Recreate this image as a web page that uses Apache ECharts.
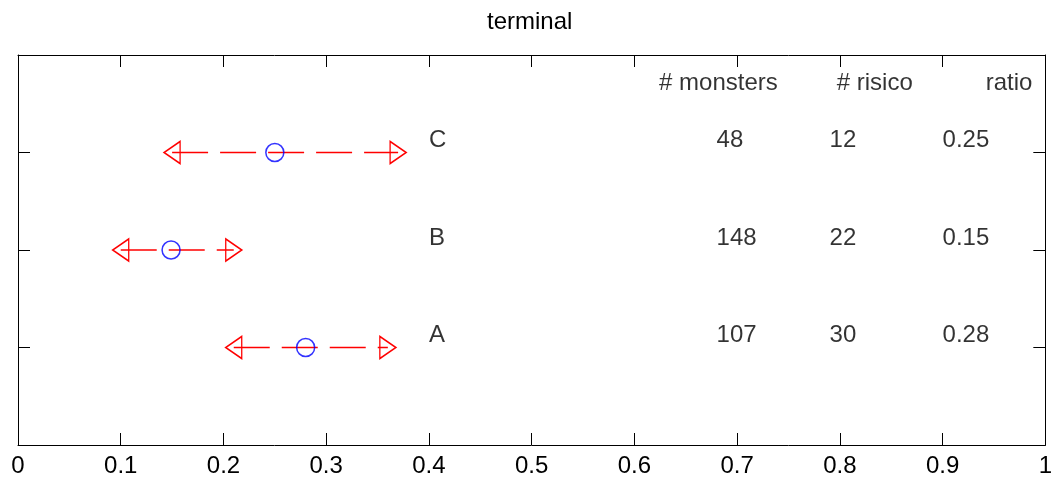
<!DOCTYPE html>
<html>
<head>
<meta charset="utf-8">
<script src="https://cdn.jsdelivr.net/npm/echarts@6/dist/echarts.min.js"></script>
<style>
  html, body { margin: 0; padding: 0; background: #fff; }
  #chart { width: 1055px; height: 479px; }
</style>
</head>
<body>
<div id="chart"></div>
<script>
// groups plotted bottom to top at y = 1, 2, 3
const groups = ['A', 'B', 'C']
const lower = [0.21, 0.10, 0.15]
const center = [0.28, 0.149, 0.25]
const upper = [0.36, 0.21, 0.37]
const monsters = [107, 148, 48]
const risico = [30, 22, 12]
const ratioText = ['0.28', '0.15', '0.25']
const headers = ['# monsters', '# risico', 'ratio']

const font = 'Liberation Sans, Arial, sans-serif'
const red = '#ff0000'
const blue = '#0000ff'

const chart = echarts.init(document.getElementById('chart'))

// one dashed errorbar per group, triangles at both ends
const barSeries = groups.map((g, i) => ({
  type: 'line',
  silent: true,
  data: [
    { value: [lower[i], i + 1], symbolRotate: 90 },
    { value: [upper[i], i + 1], symbolRotate: -90 }
  ],
  symbol: 'triangle',
  symbolSize: [22, 16],
  showSymbol: true,
  itemStyle: { color: 'rgba(0,0,0,0)', borderColor: red, borderWidth: 1.5 },
  lineStyle: { color: red, width: 1.5, type: [36, 12] },
  z: 2
}))

const textStyle = { color: '#000', fontSize: 24, fontFamily: font }

const textRows = []
groups.forEach((g, i) => {
  const y = i + 1
  textRows.push({ name: g, value: [0.4, y] })
  textRows.push({ name: String(monsters[i]), value: [0.68, y] })
  textRows.push({ name: String(risico[i]), value: [0.79, y] })
  textRows.push({ name: ratioText[i], value: [0.9, y] })
})

const headerX = [0.624, 0.797, 0.942]

// frame axis: inside ticks, no labels unless asked
const frameAxis = (extra) => Object.assign({
  type: 'value',
  axisLine: { show: true, onZero: false, lineStyle: { color: '#000', width: 1 } },
  axisTick: { show: true, inside: true, length: 12, lineStyle: { color: '#000' } },
  axisLabel: { show: false },
  splitLine: { show: false }
}, extra)

const option = {
  animation: false,
  title: {
    text: 'terminal',
    left: 487,
    top: 10,
    padding: 0,
    textStyle: { color: '#000', fontSize: 24, fontWeight: 'normal', fontFamily: font }
  },
  grid: { left: 18, right: 3, top: 55, bottom: 34 },
  xAxis: [
    frameAxis({
      min: 0, max: 1, interval: 0.1, position: 'bottom',
      axisLabel: { show: true, color: '#000', fontSize: 24, fontFamily: font, margin: 9 }
    }),
    frameAxis({ min: 0, max: 1, interval: 0.1, position: 'top' })
  ],
  yAxis: [
    frameAxis({ min: 0, max: 4, interval: 1, position: 'left' }),
    frameAxis({ min: 0, max: 4, interval: 1, position: 'right' })
  ],
  series: [
    ...barSeries,
    {
      type: 'scatter',
      silent: true,
      data: center.map((c, i) => [c, i + 1]),
      symbol: 'circle',
      symbolSize: 18,
      itemStyle: { color: 'rgba(0,0,0,0)', borderColor: blue, borderWidth: 1.5 },
      z: 3
    },
    {
      type: 'scatter',
      silent: true,
      symbolSize: 0,
      data: textRows,
      label: { show: true, position: 'right', distance: 0, offset: [0, -12], formatter: '{b}', ...textStyle }
    },
    {
      type: 'scatter',
      silent: true,
      symbolSize: 0,
      data: headers.map((h, i) => ({ name: h, value: [headerX[i], 3.71] })),
      label: { show: true, position: 'right', distance: 0, formatter: '{b}', ...textStyle }
    }
  ]
}

chart.setOption(option)
</script>
</body>
</html>
